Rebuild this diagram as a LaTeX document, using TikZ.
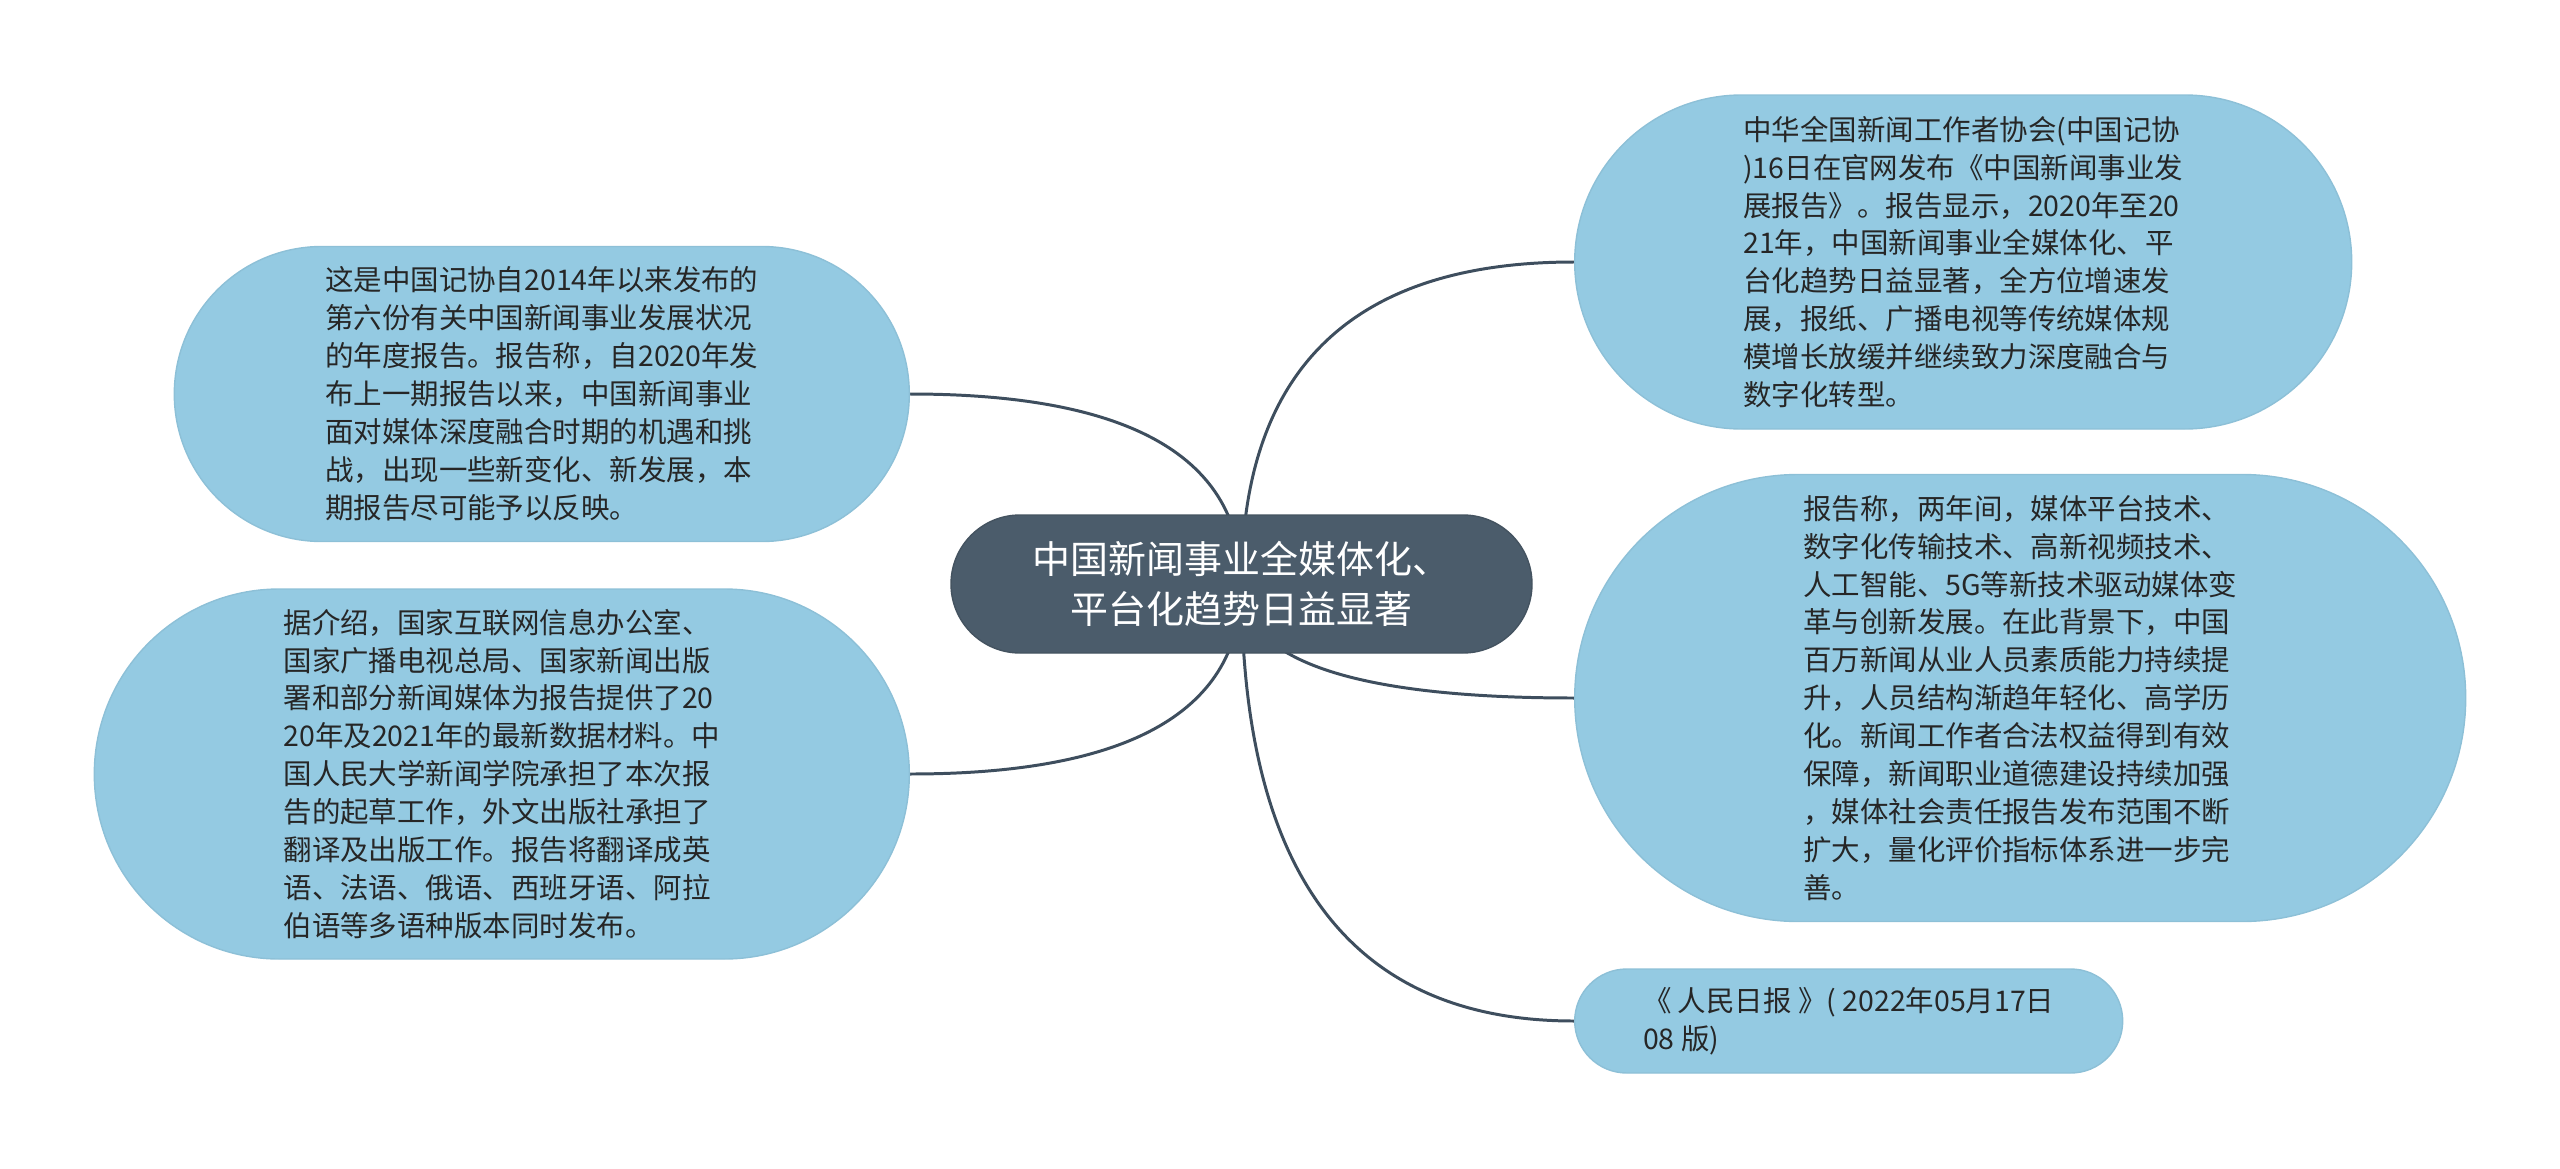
\documentclass[tikz,border=0pt]{standalone}
\usepackage{fontspec}
\setmainfont{Noto Sans CJK SC}
\usetikzlibrary{calc,backgrounds,shapes.misc}

\begin{document}
\begin{tikzpicture}
	[line cap=round,
	%Styles
	topic/.style={rounded rectangle,fill=topicfill,draw=topicfill!90!black,line width=.4pt,
		text=white,align=center,inner sep=0pt,font=\fontsize{10.8pt}{14.2pt}\selectfont},
	leaf/.style={rounded rectangle,fill=leaffill,draw=leaffill!95!black,line width=.4pt,
		text=black!85,align=left,inner sep=0pt,font=\fontsize{8.1pt}{10.8pt}\selectfont},
	branch/.style={draw=linecolor,line width=.85pt,
		to path={.. controls ($(\tikztostart)!2/3!(\tikztostart |- \tikztotarget)$)
			and ($(\tikztotarget)!2/3!(\tikztostart |- \tikztotarget)$) .. (\tikztotarget)}}
	]
	
	%Colors
	\definecolor{topicfill}{HTML}{4B5C6B}
	\definecolor{leaffill}{HTML}{94CAE2}
	\definecolor{linecolor}{HTML}{3E4E5E}
	
	\useasboundingbox (0,0) rectangle (25.6,-11.69);
	
	%The graphic
	\node[topic,minimum width=5.81cm,minimum height=1.38cm] (main) at (12.415,-5.84)
		{中国新闻事业全媒体化、\\平台化趋势日益显著};
	
	\node[leaf,anchor=east,minimum width=7.35cm,minimum height=2.95cm] (sixth) at (9.10,-3.94)
		{这是中国记协自2014年以来发布的\\第六份有关中国新闻事业发展状况\\的年度报告。报告称，自2020年发\\布上一期报告以来，中国新闻事业\\面对媒体深度融合时期的机遇和挑\\战，出现一些新变化、新发展，本\\期报告尽可能予以反映。};
	\node[leaf,anchor=east,minimum width=8.15cm,minimum height=3.70cm] (materials) at (9.10,-7.74)
		{据介绍，国家互联网信息办公室、\\国家广播电视总局、国家新闻出版\\署和部分新闻媒体为报告提供了20\\20年及2021年的最新数据材料。中\\国人民大学新闻学院承担了本次报\\告的起草工作，外文出版社承担了\\翻译及出版工作。报告将翻译成英\\语、法语、俄语、西班牙语、阿拉\\伯语等多语种版本同时发布。};
	
	\node[leaf,anchor=west,minimum width=7.77cm,minimum height=3.34cm] (release) at (15.74,-2.62)
		{中华全国新闻工作者协会(中国记协\\)16日在官网发布《中国新闻事业发\\展报告》。报告显示，2020年至20\\21年，中国新闻事业全媒体化、平\\台化趋势日益显著，全方位增速发\\展，报纸、广播电视等传统媒体规\\模增长放缓并继续致力深度融合与\\数字化转型。};
	\node[leaf,anchor=west,minimum width=8.91cm,minimum height=4.47cm] (tech) at (15.74,-6.98)
		{报告称，两年间，媒体平台技术、\\数字化传输技术、高新视频技术、\\人工智能、5G等新技术驱动媒体变\\革与创新发展。在此背景下，中国\\百万新闻从业人员素质能力持续提\\升，人员结构渐趋年轻化、高学历\\化。新闻工作者合法权益得到有效\\保障，新闻职业道德建设持续加强\\，媒体社会责任报告发布范围不断\\扩大，量化评价指标体系进一步完\\善。};
	\node[leaf,anchor=west,minimum width=5.48cm,minimum height=1.04cm] (paper) at (15.74,-10.21)
		{《 人民日报 》( 2022年05月17日\\08 版)};
	
	\begin{scope}[on background layer]
		\draw[branch] (main.center) to (sixth.east);
		\draw[branch] (main.center) to (materials.east);
		\draw[branch] (main.center) to (release.west);
		\draw[branch] (main.center) to (tech.west);
		\draw[branch] (main.center) to (paper.west);
	\end{scope}
\end{tikzpicture}
\end{document}
